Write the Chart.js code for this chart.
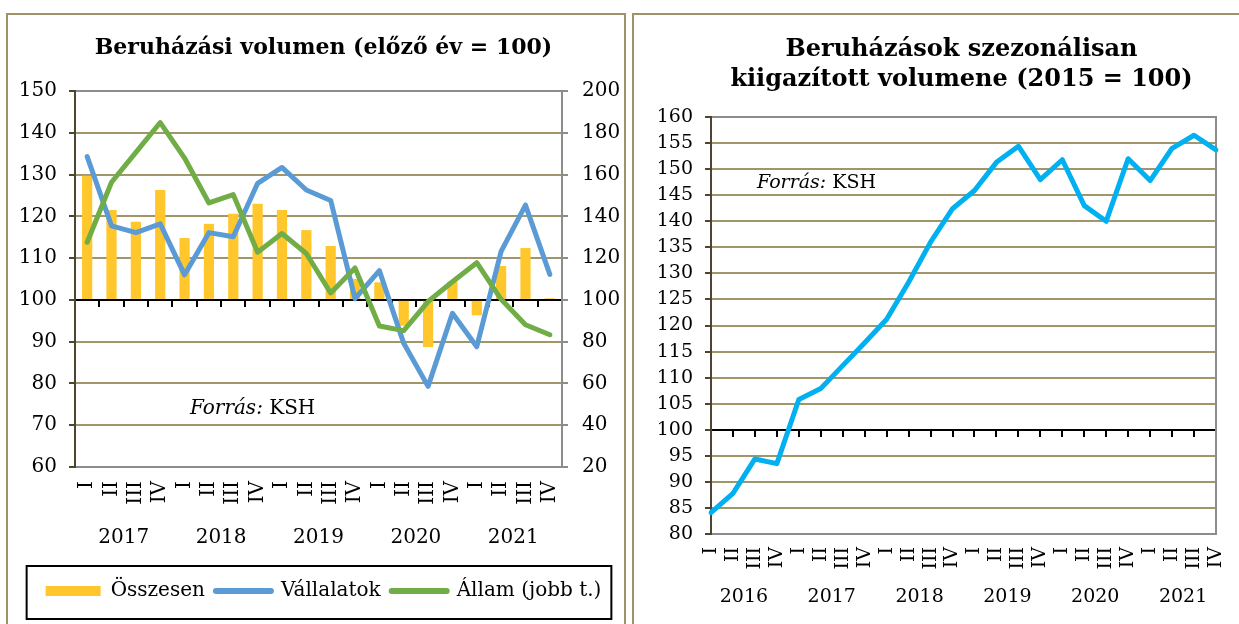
<!DOCTYPE html>
<html>
<head>
<meta charset="utf-8">
<title>Beruházások</title>
<script src="https://cdn.jsdelivr.net/npm/chart.js@4.4.1/dist/chart.umd.min.js"></script>
<style>
html, body { margin: 0; padding: 0; background: #fff; overflow: hidden; width: 1239px; height: 624px; }
.panel { position: absolute; border: 2px solid #9e9266; border-bottom: none; }
#p1 { left: 6px; top: 13px; width: 616px; height: 620px; }
#p2 { left: 632px; top: 13px; width: 640px; height: 620px; }
canvas { position: absolute; top: 0; }
#c1 { left: 0; }
#c2 { left: 633px; }
</style>
</head>
<body>
<div class="panel" id="p1"></div>
<div class="panel" id="p2"></div>
<canvas id="c1" width="647" height="624"></canvas>
<canvas id="c2" width="657" height="624"></canvas>
<script>
// bal oldali ábra: 2017 I - 2021 IV
var negyedevek1 = ['I', 'II', 'III', 'IV', 'I', 'II', 'III', 'IV', 'I', 'II', 'III', 'IV',
    'I', 'II', 'III', 'IV', 'I', 'II', 'III', 'IV'];
var evek1 = ['2017', '2018', '2019', '2020', '2021'];
var osszesen = [129.7, 121.5, 118.7, 126.3, 114.8, 118.2, 120.6, 123.0, 121.5, 116.7,
    112.9, 105.0, 104.2, 93.8, 88.7, 104.4, 96.3, 108.1, 112.4, 100.4];
var vallalatok = [134.3, 117.7, 116.1, 118.2, 106.0, 116.1, 115.1, 127.9, 131.7, 126.3,
    123.8, 100.3, 107.0, 89.6, 79.3, 96.8, 88.8, 111.6, 122.7, 106.1];
var allam = [127.6, 156.3, 170.6, 184.9, 167.9, 146.4, 150.4, 122.8, 131.8, 122.2,
    103.3, 115.3, 87.5, 85.3, 99.2, 108.7, 117.8, 100.3, 88.1, 83.3];

// jobb oldali ábra: 2016 I - 2021 IV
var negyedevek2 = ['I', 'II', 'III', 'IV', 'I', 'II', 'III', 'IV', 'I', 'II', 'III', 'IV',
    'I', 'II', 'III', 'IV', 'I', 'II', 'III', 'IV', 'I', 'II', 'III', 'IV'];
var evek2 = ['2016', '2017', '2018', '2019', '2020', '2021'];
var szezonalis = [84.1, 87.8, 94.4, 93.5, 105.8, 107.9, 112.3, 116.7, 121.2, 128.3,
    136.0, 142.4, 145.9, 151.3, 154.4, 148.0, 151.8, 143.0, 140.0, 152.0,
    147.8, 154.0, 156.5, 153.7];

var FONT = 'DejaVu Serif';
var GRID = '#a0966a';
var SARGA = '#ffc72c';
var KEK = '#5b9bd5';
var ZOLD = '#70ad47';
var CIAN = '#00b0f0';

Chart.defaults.font.family = FONT;
Chart.defaults.color = '#000';

// "Forrás: KSH" felirat
var forrasPlugin = {
    id: 'forras',
    afterDraw: function (chart, args, opts) {
        var ctx = chart.ctx;
        var x = chart.chartArea.left + opts.dx;
        var y = chart.scales[opts.axis].getPixelForValue(opts.value);
        ctx.save();
        ctx.fillStyle = '#000';
        ctx.textBaseline = 'middle';
        ctx.textAlign = 'left';
        ctx.font = 'italic ' + opts.size + 'px ' + FONT;
        ctx.fillText('Forrás:', x, y);
        var w = ctx.measureText('Forrás: ').width;
        ctx.font = opts.size + 'px ' + FONT;
        ctx.fillText('KSH', x + w, y);
        ctx.restore();
    }
};

// keret a jelmagyarázat körül
var legendBox = {
    id: 'legendBox',
    afterDraw: function (chart) {
        var hb = chart.legend.legendHitBoxes;
        if (!hb || !hb.length) return;
        var last = hb[hb.length - 1];
        var x0 = hb[0].left - 19;
        var x1 = last.left + last.width + 10;
        var cy = hb[0].top + hb[0].height / 2;
        var ctx = chart.ctx;
        ctx.save();
        ctx.strokeStyle = '#000';
        ctx.lineWidth = 2;
        ctx.strokeRect(x0, cy - 25, x1 - x0, 53);
        ctx.restore();
    }
};

function rowLabels(chart) {
    return chart.data.datasets.map(function (ds, i) {
        var oszlop = ds.type === 'bar';
        return {
            text: ds.label,
            datasetIndex: i,
            fillStyle: oszlop ? ds.backgroundColor : ds.borderColor,
            strokeStyle: oszlop ? ds.backgroundColor : ds.borderColor,
            lineWidth: oszlop ? 0 : 6,
            lineCap: 'round',
            pointStyle: oszlop ? 'rect' : 'line',
            fontColor: '#000',
            hidden: false
        };
    });
}

new Chart(document.getElementById('c1').getContext('2d'), {
    type: 'bar',
    data: {
        labels: negyedevek1,
        datasets: [{
            type: 'bar',
            label: 'Összesen',
            data: osszesen,
            base: 100,
            xAxisID: 'x',
            yAxisID: 'y',
            backgroundColor: SARGA,
            barPercentage: 0.42,
            categoryPercentage: 1,
            order: 2
        }, {
            type: 'line',
            label: 'Vállalatok',
            data: vallalatok,
            xAxisID: 'x',
            yAxisID: 'y',
            borderColor: KEK,
            backgroundColor: KEK,
            borderWidth: 5,
            pointRadius: 0,
            borderJoinStyle: 'round',
            borderCapStyle: 'round',
            order: 1
        }, {
            type: 'line',
            label: 'Állam (jobb t.)',
            data: allam,
            xAxisID: 'x',
            yAxisID: 'y2',
            borderColor: ZOLD,
            backgroundColor: ZOLD,
            borderWidth: 5,
            pointRadius: 0,
            borderJoinStyle: 'round',
            borderCapStyle: 'round',
            order: 0
        }]
    },
    options: {
        responsive: false,
        animation: false,
        layout: { padding: { left: 20, right: 20, top: 0, bottom: 13 } },
        plugins: {
            title: {
                display: true,
                text: 'Beruházási volumen (előző év = 100)',
                font: { family: FONT, size: 22, weight: 'bold' },
                color: '#000',
                padding: { top: 35, bottom: 29.6 }
            },
            legend: {
                position: 'bottom',
                labels: {
                    usePointStyle: true,
                    pointStyleWidth: 55,
                    boxHeight: 10,
                    padding: 11,
                    font: { family: FONT, size: 20 },
                    color: '#000',
                    generateLabels: rowLabels
                }
            },
            tooltip: { enabled: false },
            forras: { dx: 115, axis: 'y', value: 73.9, size: 20 }
        },
        scales: {
            x: {
                type: 'category',
                position: 'bottom',
                weight: 1,
                offset: true,
                grid: { display: false, drawTicks: false },
                border: { display: true, color: '#8c8c8c', width: 2 },
                ticks: { font: { size: 20 }, color: '#000', minRotation: 90, maxRotation: 90, autoSkip: false, padding: 14 },
                afterFit: function (s) { s.height = 45; }
            },
            ev: {
                type: 'linear',
                axis: 'x',
                position: 'bottom',
                weight: 2,
                offset: false,
                min: -0.5,
                max: 19.5,
                grid: { display: false, drawTicks: false },
                border: { display: false },
                ticks: {
                    font: { size: 20 }, color: '#000', autoSkip: false, maxRotation: 0, padding: 14,
                    callback: function (v) { return evek1[Math.round((v - 1.5) / 4)]; }
                },
                afterBuildTicks: function (s) {
                    s.ticks = evek1.map(function (e, i) { return { value: i * 4 + 1.5 }; });
                },
                afterFit: function (s) { s.height = 58; }
            },
            tengely: {
                type: 'category',
                axis: 'x',
                position: { y: 100 },
                offset: true,
                grid: { offset: true, drawOnChartArea: false, drawTicks: true, tickLength: 6, color: '#000', lineWidth: 2 },
                border: { display: true, color: '#000', width: 2 },
                ticks: { display: false }
            },
            y: {
                position: 'left',
                min: 60,
                max: 150,
                grid: {
                    color: function (c) { return c.tick && c.tick.value === 150 ? '#8c8c8c' : GRID; },
                    lineWidth: 2,
                    tickLength: 6,
                    tickColor: '#4d4530'
                },
                border: { color: '#4d4530', width: 2 },
                ticks: { stepSize: 10, font: { size: 20 }, color: '#000', padding: 12, autoSkip: false },
                afterFit: function (s) { s.width = 55; }
            },
            y2: {
                axis: 'y',
                position: 'right',
                min: 20,
                max: 200,
                grid: { drawOnChartArea: false, tickLength: 6, color: '#8c8c8c', lineWidth: 2 },
                border: { color: '#8c8c8c', width: 2 },
                ticks: { stepSize: 20, font: { size: 20 }, color: '#000', padding: 14, autoSkip: false },
                afterFit: function (s) { s.width = 65; }
            }
        }
    },
    plugins: [forrasPlugin, legendBox]
});

new Chart(document.getElementById('c2').getContext('2d'), {
    type: 'line',
    data: {
        labels: negyedevek2,
        datasets: [{
            label: 'Beruházások',
            data: szezonalis,
            xAxisID: 'x',
            yAxisID: 'y',
            borderColor: CIAN,
            backgroundColor: CIAN,
            borderWidth: 5,
            pointRadius: 0,
            borderJoinStyle: 'round',
            borderCapStyle: 'round'
        }]
    },
    options: {
        responsive: false,
        animation: false,
        layout: { padding: { left: 10, right: 10, top: 0, bottom: 0 } },
        plugins: {
            title: {
                display: true,
                text: ['Beruházások szezonálisan', 'kiigazított volumene (2015 = 100)'],
                font: { family: FONT, size: 24, weight: 'bold', lineHeight: 1.25 },
                color: '#000',
                padding: { top: 35, bottom: 22 }
            },
            legend: { display: false },
            tooltip: { enabled: false },
            forras: { dx: 46, axis: 'y', value: 147.3, size: 19 }
        },
        scales: {
            x: {
                type: 'category',
                position: 'bottom',
                weight: 1,
                offset: false,
                grid: { display: false, drawTicks: false },
                border: { display: true, color: '#8c8c8c', width: 2 },
                ticks: { font: { size: 19 }, color: '#000', minRotation: 90, maxRotation: 90, autoSkip: false, padding: 13 },
                afterFit: function (s) { s.height = 38; }
            },
            ev: {
                type: 'linear',
                axis: 'x',
                position: 'bottom',
                weight: 2,
                offset: false,
                min: 0,
                max: 23,
                grid: { display: false, drawTicks: false },
                border: { display: false },
                ticks: {
                    font: { size: 19 }, color: '#000', autoSkip: false, maxRotation: 0, padding: 14,
                    callback: function (v) { return evek2[Math.round((v - 1.5) / 4)]; }
                },
                afterBuildTicks: function (s) {
                    s.ticks = evek2.map(function (e, i) { return { value: i * 4 + 1.5 }; });
                },
                afterFit: function (s) { s.height = 52; }
            },
            tengely: {
                type: 'category',
                axis: 'x',
                position: { y: 100 },
                offset: false,
                grid: { drawOnChartArea: false, drawTicks: true, tickLength: 6, color: '#000', lineWidth: 2 },
                border: { display: true, color: '#000', width: 2 },
                ticks: { display: false }
            },
            y: {
                position: 'left',
                min: 80,
                max: 160,
                grid: {
                    color: function (c) { return c.tick && c.tick.value === 160 ? '#8c8c8c' : GRID; },
                    lineWidth: 2,
                    tickLength: 6,
                    tickColor: '#4d4530'
                },
                border: { color: '#4d4530', width: 2 },
                ticks: { stepSize: 5, font: { size: 19 }, color: '#000', padding: 12, autoSkip: false },
                afterFit: function (s) { s.width = 68; }
            },
            yr: {
                axis: 'y',
                position: 'right',
                min: 80,
                max: 160,
                grid: { display: false, drawTicks: false },
                border: { color: '#8c8c8c', width: 2 },
                ticks: { display: false },
                afterFit: function (s) { s.width = 64; }
            }
        }
    },
    plugins: [forrasPlugin]
});
</script>
</body>
</html>
